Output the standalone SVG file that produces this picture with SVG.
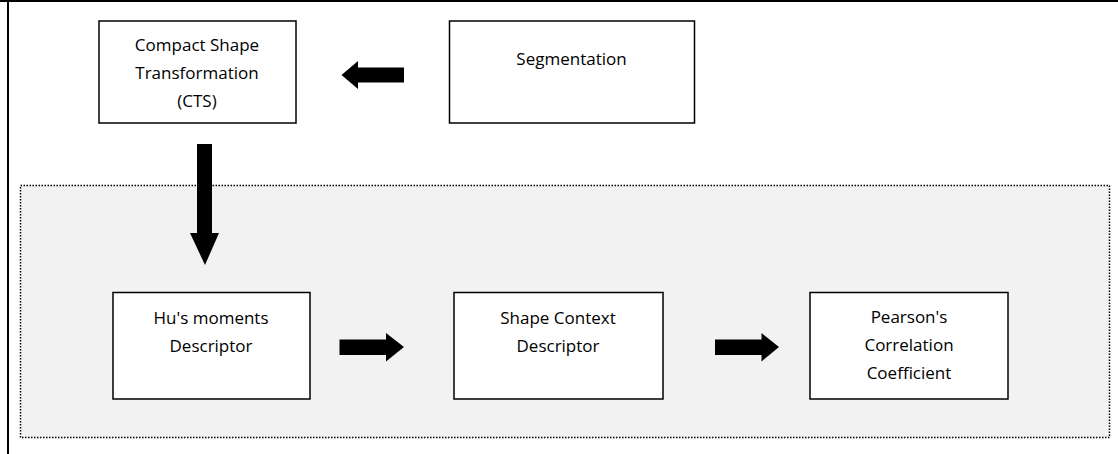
<svg xmlns="http://www.w3.org/2000/svg" width="1118" height="454" viewBox="0 0 1118 454">
<style>
.box{fill:#fff;stroke:#000;stroke-width:1.5}
.t{font-family:"Open Sans","Liberation Sans",sans-serif;font-size:17px;fill:#000;text-anchor:middle}
.arr{fill:#000}
</style>
<rect x="0" y="0" width="1118" height="454" fill="#fff"/>
<g id="frame">
<line x1="0" y1="1" x2="1118" y2="1" stroke="#000" stroke-width="2"/>
<line x1="8" y1="0" x2="8" y2="454" stroke="#000" stroke-width="2"/>
</g>
<g id="region">
<rect x="20.5" y="185.5" width="1089" height="252" fill="#f2f2f2" stroke="#000" stroke-width="1.5" stroke-dasharray="1.5 1.5"/>
</g>
<g id="cts">
<rect class="box" x="99" y="21" width="197" height="102"/>
<text class="t" x="197" y="50.5">Compact Shape</text>
<text class="t" x="197" y="79">Transformation</text>
<text class="t" x="197" y="106.5">(CTS)</text>
</g>
<g id="segmentation">
<rect class="box" x="449.5" y="21" width="245" height="102"/>
<text class="t" x="571.5" y="65">Segmentation</text>
</g>
<g id="hu">
<rect class="box" x="113" y="292.5" width="197" height="106.5"/>
<text class="t" x="211" y="324">Hu's moments</text>
<text class="t" x="211" y="351.5">Descriptor</text>
</g>
<g id="shapecontext">
<rect class="box" x="454" y="292.5" width="209" height="106.5"/>
<text class="t" x="558" y="324">Shape Context</text>
<text class="t" x="558" y="352">Descriptor</text>
</g>
<g id="pearson">
<rect class="box" x="810" y="292.5" width="198" height="106.5"/>
<text class="t" x="909" y="323">Pearson's</text>
<text class="t" x="909" y="351">Correlation</text>
<text class="t" x="909" y="378.5">Coefficient</text>
</g>
<g id="connectors">
<polygon class="arr" points="404,67.5 358,67.5 358,61 341.5,75 358,89 358,82.5 404,82.5"/>
<polygon class="arr" points="197,144 212,144 212,233 219,233 205,265 190,233 197,233"/>
<polygon class="arr" points="339.5,339.5 386,339.5 386,333 404,347 386,361.5 386,355 339.5,355"/>
<polygon class="arr" points="715,339.5 761.5,339.5 761.5,333 779,347 761.5,361.5 761.5,355 715,355"/>
</g>
</svg>
